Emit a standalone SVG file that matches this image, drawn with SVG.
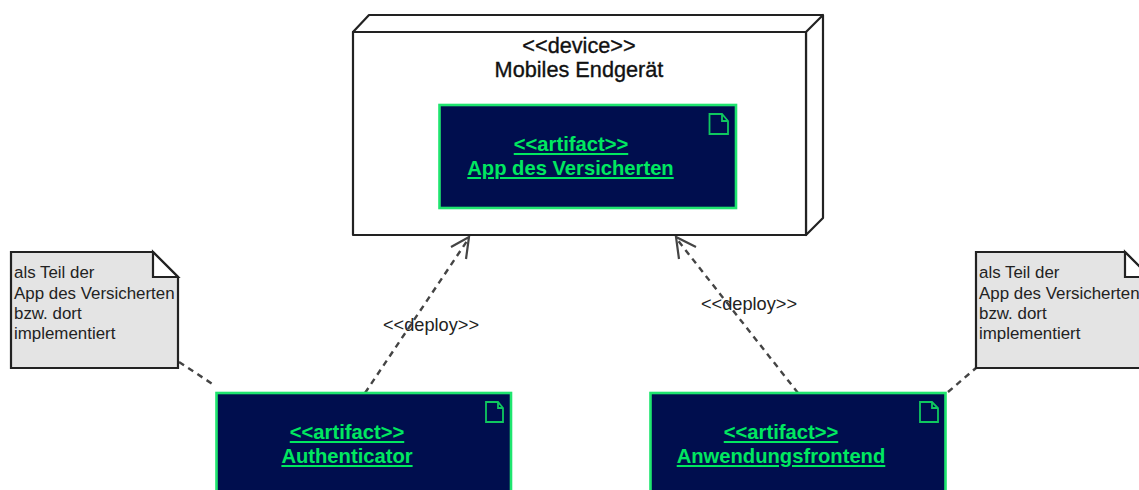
<svg xmlns="http://www.w3.org/2000/svg" width="1139" height="490" viewBox="0 0 1139 490">
<defs><style>
text{font-family:"Liberation Sans",Arial,sans-serif}
.dev{fill:#fff;stroke:#222;stroke-width:2.2;stroke-linejoin:round}
.art{fill:#000e4e;stroke:#1fe56f;stroke-width:2.6}
.ico{fill:none;stroke:#0fc85f;stroke-width:1.8}
.at{font-size:20.2px;font-weight:bold;fill:#00e860;text-anchor:middle;text-decoration:underline}
.dt{font-size:21.7px;fill:#111;stroke:#111;stroke-width:.35;text-anchor:middle}
.note{fill:#e4e4e4;stroke:#222;stroke-width:2.2}
.fold{fill:#fff;stroke:#222;stroke-width:2.2}
.nt{font-size:16.9px;fill:#222}
.lbl{font-size:18.2px;fill:#222;text-anchor:middle}
.dash{fill:none;stroke:#444;stroke-width:2.4;stroke-dasharray:6 5}
.head{fill:none;stroke:#444;stroke-width:2.2}
</style></defs>
<g id="connectors">
<path class="dash" d="M365 393L469 238"/>
<path class="head" d="M451 247L469 237L466 259"/>
<path class="dash" d="M798 393L676 238"/>
<path class="head" d="M679 259L676 237L696 247"/>
<path class="dash" d="M179 362L214 385"/>
<path class="dash" d="M948 392L976 368"/>
</g>
<g id="device">
<path class="dev" d="M353 32L369 15H823L806 32ZM806 32L823 15V218L806 235Z"/>
<rect class="dev" x="353" y="32" width="453" height="203"/>
<text class="dt" x="579" y="53">&lt;&lt;device&gt;&gt;</text>
<text class="dt" x="579" y="77">Mobiles Endgerät</text>
</g>
<g id="app">
<rect class="art" x="439.500" y="105" width="296.500" height="103"/>
<path class="ico" d="M709.500 114H722L728 121V134H709.500ZM722 114V121H728"/>
<text class="at" x="571" y="151">&lt;&lt;artifact&gt;&gt;</text>
<text class="at" x="570.500" y="175">App des Versicherten</text>
</g>
<g id="auth">
<rect class="art" x="216.500" y="393" width="294.500" height="100"/>
<path class="ico" d="M486 402H498L503 408V422H486ZM498 402V408H503"/>
<text class="at" x="347" y="439">&lt;&lt;artifact&gt;&gt;</text>
<text class="at" x="347" y="463">Authenticator</text>
</g>
<g id="frontend">
<rect class="art" x="650.500" y="393" width="295" height="100"/>
<path class="ico" d="M920 402H932L938 408V422H920ZM932 402V408H938"/>
<text class="at" x="781" y="439">&lt;&lt;artifact&gt;&gt;</text>
<text class="at" x="781" y="463">Anwendungsfrontend</text>
</g>
<g id="note1">
<path class="note" d="M11 252H153L178 277V368H11Z"/>
<path class="fold" d="M153 252V277H178Z"/>
<text class="nt" x="14" y="278">als Teil der</text>
<text class="nt" x="14" y="299">App des Versicherten</text>
<text class="nt" x="14" y="319">bzw. dort</text>
<text class="nt" x="14" y="339">implementiert</text>
</g>
<g id="note2">
<path class="note" d="M976 252H1125L1150 277V368H976Z"/>
<path class="fold" d="M1125 252V277H1150Z"/>
<text class="nt" x="979" y="278">als Teil der</text>
<text class="nt" x="979" y="299">App des Versicherten</text>
<text class="nt" x="979" y="319">bzw. dort</text>
<text class="nt" x="979" y="339">implementiert</text>
</g>
<g id="labels">
<text class="lbl" x="431" y="331">&lt;&lt;deploy&gt;&gt;</text>
<text class="lbl" x="749" y="310">&lt;&lt;deploy&gt;&gt;</text>
</g>
</svg>
